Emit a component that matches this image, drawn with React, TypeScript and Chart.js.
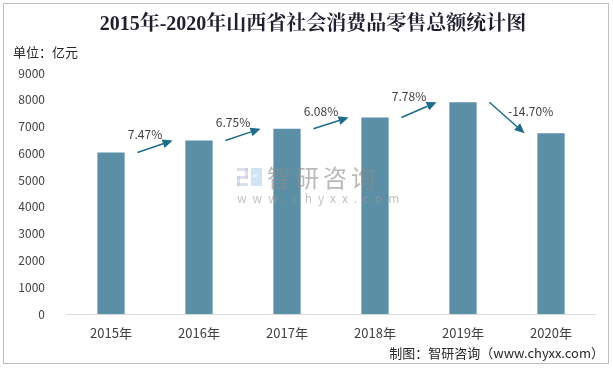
import React, { useEffect, useRef } from "react";
import { Chart, registerables } from "chart.js";

Chart.register(...registerables);

const categories = ["2015年", "2016年", "2017年", "2018年", "2019年", "2020年"];
const salesValues = [6033.7, 6480.5, 6918.1, 7338.5, 7909.2, 6746.3];
const growthLabels = ["7.47%", "6.75%", "6.08%", "7.78%", "-14.70%"];
const yMin = 0;
const yMax = 9000;
const yStep = 1000;
const titleText = "2015年-2020年山西省社会消费品零售总额统计图";
const unitText = "单位：亿元";
const sourceText = "制图：智研咨询（www.chyxx.com）";
const watermarkMain = "智研咨询";
const watermarkSub = "www.chyxx.com";

const SANS = "'Noto Sans CJK SC', 'Noto Sans', sans-serif";
const BAR_COLOR = "#5B8FA5";
const ARROW_COLOR = "#1E6B8A";
const TEXT_COLOR = "#404040";

function drawArrow(ctx: CanvasRenderingContext2D, x1: number, y1: number, x2: number, y2: number) {
  const ang = Math.atan2(y2 - y1, x2 - x1);
  const headLen = 10;
  const headW = 4.5;
  const bx = x2 - headLen * Math.cos(ang);
  const by = y2 - headLen * Math.sin(ang);
  ctx.beginPath();
  ctx.moveTo(x1, y1);
  ctx.lineTo(bx, by);
  ctx.stroke();
  ctx.beginPath();
  ctx.moveTo(x2, y2);
  ctx.lineTo(bx + headW * Math.sin(ang), by - headW * Math.cos(ang));
  ctx.lineTo(bx - headW * Math.sin(ang), by + headW * Math.cos(ang));
  ctx.closePath();
  ctx.fill();
}

const decorPlugin = {
  id: "decor",
  beforeDraw(chart: any) {
    const ctx = chart.ctx as CanvasRenderingContext2D;
    ctx.save();
    ctx.fillStyle = "#ffffff";
    ctx.fillRect(0, 0, chart.width, chart.height);
    ctx.strokeStyle = "#bfbfbf";
    ctx.lineWidth = 1;
    ctx.strokeRect(3.5, 3.5, 605, 360);
    ctx.restore();
  },
  afterDatasetsDraw(chart: any) {
    const ctx = chart.ctx as CanvasRenderingContext2D;
    const xs = chart.scales.x;
    const ys = chart.scales.y;
    // watermark
    ctx.save();
    ctx.globalAlpha = 0.55;
    ctx.fillStyle = "#b9c6da";
    ctx.fillRect(237, 168, 11, 3);
    ctx.fillRect(245, 168, 3, 10);
    ctx.fillRect(237, 176, 11, 3);
    ctx.fillRect(237, 176, 3, 10);
    ctx.fillRect(237, 183, 11, 3);
    ctx.fillStyle = "#a9cdef";
    ctx.fillRect(251, 168, 11, 18);
    ctx.fillStyle = "#ffffff";
    ctx.fillRect(253, 174, 4, 3);
    ctx.globalAlpha = 0.6;
    ctx.fillStyle = "#8a8a8a";
    ctx.font = `24px ${SANS}`;
    ctx.textBaseline = "middle";
    ctx.textAlign = "left";
    (ctx as any).letterSpacing = "4px";
    ctx.fillText(watermarkMain, 267, 178);
    ctx.font = `12px ${SANS}`;
    (ctx as any).letterSpacing = "6px";
    ctx.fillStyle = "#9a9a9a";
    ctx.fillText(watermarkSub, 237, 198);
    (ctx as any).letterSpacing = "0px";
    ctx.restore();

    // growth arrows
    ctx.save();
    ctx.lineWidth = 1.5;
    const catW = xs.getPixelForValue(1) - xs.getPixelForValue(0);
    for (let i = 0; i < growthLabels.length; i++) {
      const x1 = xs.getPixelForValue(i) + catW * 0.3;
      const y1 = ys.getPixelForValue(salesValues[i]);
      const x2 = xs.getPixelForValue(i + 1) - catW * 0.3;
      const y2 = ys.getPixelForValue(salesValues[i + 1]);
      ctx.strokeStyle = ARROW_COLOR;
      ctx.fillStyle = ARROW_COLOR;
      drawArrow(ctx, x1, y1, x2, y2);
      ctx.fillStyle = TEXT_COLOR;
      ctx.font = `12px ${SANS}`;
      ctx.textAlign = "center";
      ctx.textBaseline = "middle";
      let lx: number, ly: number;
      if (y2 <= y1) {
        lx = (x1 + x2) / 2 - 10;
        ly = y2 - 6;
      } else {
        lx = x2 + 6;
        ly = y1 + 9;
      }
      ctx.fillText(growthLabels[i], lx, ly);
    }
    ctx.restore();
  },
  afterDraw(chart: any) {
    const ctx = chart.ctx as CanvasRenderingContext2D;
    ctx.save();
    ctx.fillStyle = "#1f1f2f";
    ctx.textAlign = "center";
    ctx.textBaseline = "middle";
    ctx.font = `bold 20px 'Liberation Serif', 'Noto Serif CJK SC', 'Noto Sans CJK SC', serif`;
    ctx.fillText(titleText, 313, 25);
    ctx.fillStyle = "#262626";
    ctx.font = `13px ${SANS}`;
    ctx.textAlign = "left";
    ctx.fillText(unitText, 13, 52);
    ctx.textAlign = "right";
    ctx.fillText(sourceText, 604, 353);
    ctx.restore();
  },
};

export default function App() {
  const canvasRef = useRef<HTMLCanvasElement | null>(null);

  useEffect(() => {
    if (!canvasRef.current) return;
    const chart = new Chart(canvasRef.current, {
      type: "bar",
      data: {
        labels: categories,
        datasets: [
          {
            data: salesValues,
            backgroundColor: BAR_COLOR,
            borderWidth: 0,
            categoryPercentage: 1,
            barPercentage: 0.31,
          },
        ],
      },
      options: {
        responsive: false,
        animation: false,
        devicePixelRatio: 1,
        layout: { padding: { top: 73, right: 18, left: 0, bottom: 0 } },
        plugins: {
          legend: { display: false },
          title: { display: false },
          tooltip: { enabled: false },
        },
        scales: {
          x: {
            grid: { display: false },
            border: { display: true, color: "#d9d9d9", width: 1 },
            ticks: {
              color: TEXT_COLOR,
              font: { size: 13, family: SANS },
              padding: 3,
              maxRotation: 0,
            },
            afterFit: (scale: any) => {
              scale.height = 55;
            },
          },
          y: {
            min: yMin,
            max: yMax,
            grid: { display: false },
            border: { display: false },
            ticks: {
              stepSize: yStep,
              color: TEXT_COLOR,
              font: { size: 12, family: SANS },
              padding: 14,
              callback: (v: any) => String(v),
            },
            afterFit: (scale: any) => {
              scale.width = 67;
            },
          },
        },
      },
      plugins: [decorPlugin],
    });
    return () => chart.destroy();
  }, []);

  return (
    <div style={{ position: "absolute", left: 0, top: 0, width: 613, height: 369 }}>
      <canvas ref={canvasRef} width={613} height={369} style={{ display: "block" }} />
    </div>
  );
}
